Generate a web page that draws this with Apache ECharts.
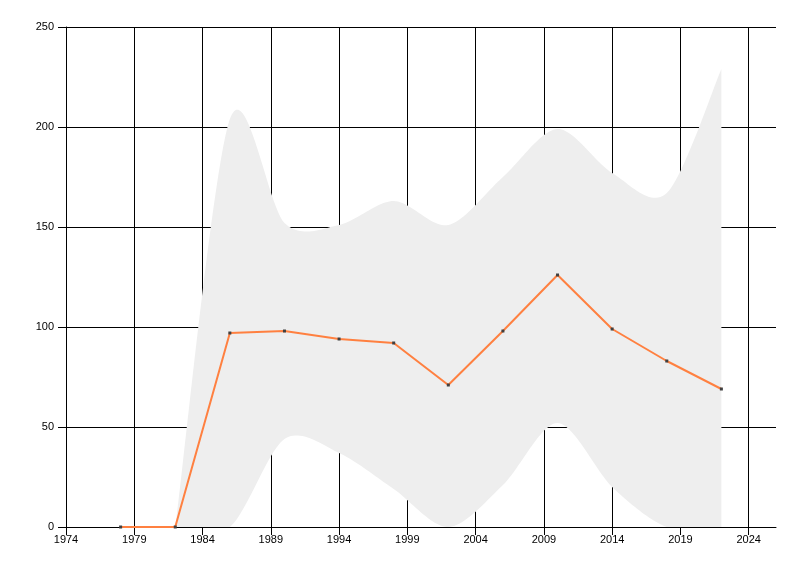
<!DOCTYPE html>
<html>
<head>
<meta charset="utf-8">
<script src="https://cdn.jsdelivr.net/npm/echarts@6/dist/echarts.min.js"></script>
<style>
html,body{margin:0;padding:0;background:#fff;}
#chart{width:800px;height:576px;}
</style>
</head>
<body>
<div id="chart"></div>
<script>
// Line series
const years = [1978, 1982, 1986, 1990, 1994, 1998, 2002, 2006, 2010, 2014, 2018, 2022];
const values = [0, 0, 97, 98, 94, 92, 71, 98, 126, 99, 83, 69];

// Range band (spline)
const bandYears = [1982, 1986, 1990, 1994, 1998, 2002, 2006, 2010, 2014, 2018, 2022];
const bandUpper = [0, 204, 152, 151, 163, 151, 175, 199, 177, 167, 229];
const bandLower = [0, 0, 44, 37, 19, 0, 21, 52, 20, 0, 0];

// Axis
const xMin = 1974, xMax = 2026, xStep = 5;
const axisYears = [];
for (let y = xMin; y <= xMax; y++) axisYears.push(String(y));
const yTicks = [0, 50, 100, 150, 200, 250];

const TENSION = 0.15;
function cardinal(pts) {
  const out = [pts[0]];
  const n = pts.length;
  for (let i = 0; i < n - 1; i++) {
    const p0 = pts[Math.max(i - 1, 0)], p1 = pts[i], p2 = pts[i + 1], p3 = pts[Math.min(i + 2, n - 1)];
    const c1 = [p1[0] + TENSION * (p2[0] - p0[0]), p1[1] + TENSION * (p2[1] - p0[1])];
    const c2 = [p2[0] - TENSION * (p3[0] - p1[0]), p2[1] - TENSION * (p3[1] - p1[1])];
    const steps = 24;
    for (let s = 1; s <= steps; s++) {
      const t = s / steps, u = 1 - t;
      const a = u * u * u, b = 3 * u * u * t, c = 3 * u * t * t, d = t * t * t;
      out.push([a * p1[0] + b * c1[0] + c * c2[0] + d * p2[0],
                a * p1[1] + b * c1[1] + c * c2[1] + d * p2[1]]);
    }
  }
  return out;
}

const chart = echarts.init(document.getElementById('chart'), null, {renderer: 'canvas'});
const labelFont = {color: '#000', fontSize: 11, fontFamily: 'Liberation Sans, Arial, sans-serif'};
const showEvery = (idx) => idx % xStep === 0;

chart.setOption({
  animation: false,
  backgroundColor: '#fff',
  grid: {left: 66, top: 27, width: 710, height: 500, containLabel: false},
  xAxis: [{
    type: 'value', min: xMin, max: xMax, position: 'bottom',
    axisLine: {show: true, lineStyle: {color: '#000', width: 1}},
    axisTick: {show: false}, axisLabel: {show: false}, splitLine: {show: false}
  }, {
    type: 'category', data: axisYears, boundaryGap: false, position: 'bottom',
    axisLine: {show: false},
    axisTick: {show: true, length: 8, interval: showEvery, lineStyle: {color: '#000'}},
    axisLabel: Object.assign({show: true, margin: 7, interval: showEvery}, labelFont),
    splitLine: {show: true, interval: showEvery, lineStyle: {color: '#000', width: 1}}
  }],
  yAxis: {
    type: 'value', min: yTicks[0], max: yTicks[yTicks.length - 1], interval: 50,
    axisLine: {show: true, lineStyle: {color: '#000'}},
    axisTick: {show: true, length: 8, lineStyle: {color: '#000'}},
    axisLabel: Object.assign({margin: 12}, labelFont),
    splitLine: {show: true, lineStyle: {color: '#000', width: 1}}
  },
  series: [{
    type: 'custom',
    xAxisIndex: 0,
    clip: true,
    silent: true,
    z: 1,
    data: bandYears.map((y, i) => [y, bandLower[i], bandUpper[i]]),
    encode: {x: 0, y: [1, 2]},
    renderItem: function (params, api) {
      if (params.dataIndex !== 0) return null;
      const up = bandYears.map((y, i) => api.coord([y, bandUpper[i]]));
      const lo = bandYears.map((y, i) => api.coord([y, bandLower[i]])).reverse();
      const poly = cardinal(up).concat(cardinal(lo));
      return {type: 'polygon', shape: {points: poly}, style: {fill: '#eeeeee', stroke: null}};
    }
  }, {
    type: 'line',
    xAxisIndex: 0,
    z: 3,
    data: years.map((y, i) => [y, values[i]]),
    symbol: 'rect',
    symbolSize: 3,
    showSymbol: true,
    itemStyle: {color: '#404040'},
    lineStyle: {color: '#ff8040', width: 2},
    emphasis: {disabled: true}
  }]
});
</script>
</body>
</html>
